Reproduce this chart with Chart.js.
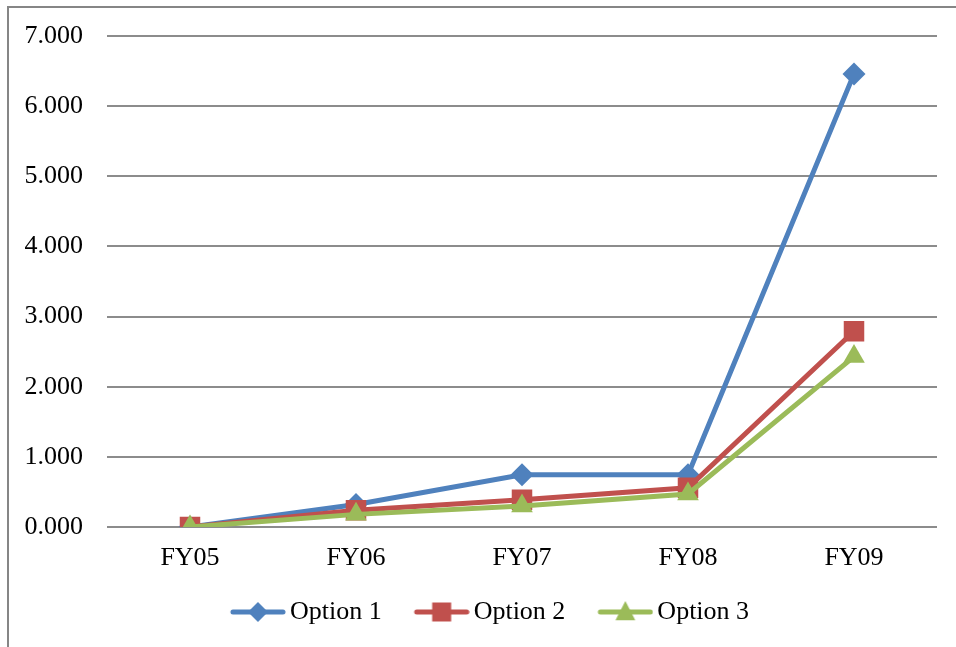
<!DOCTYPE html>
<html>
<head>
<meta charset="UTF-8">
<title>Options FY05-FY09</title>
<script src="https://cdn.jsdelivr.net/npm/chart.js@4.4.1/dist/chart.umd.min.js"></script>
<style>
html,body{margin:0;padding:0;background:#fff;}
#wrap{position:relative;width:956px;height:647px;overflow:hidden;}
#frame{position:absolute;left:7px;top:6px;width:1000px;height:700px;border-left:2px solid #868686;border-top:2px solid #868686;}
#c{position:absolute;left:0;top:0;}
</style>
</head>
<body>
<div id="wrap">
<div id="frame"></div>
<canvas id="c" width="956" height="647"></canvas>
</div>
<script>
// data
const years = ['FY05','FY06','FY07','FY08','FY09'];
const option1 = [0.000, 0.320, 0.745, 0.745, 6.460];
const option2 = [0.000, 0.240, 0.390, 0.560, 2.790];
const option3 = [0.000, 0.180, 0.300, 0.470, 2.430];
const seriesNames = ['Option 1','Option 2','Option 3'];
const colors = ['#4F81BD','#C0504D','#9BBB59'];
const markers = ['rectRot','rect','triangle'];
const markerSize = [11.5, 14.5, 12.5];
const yTicks = [0,1,2,3,4,5,6,7];

const FONT = "'Liberation Serif','Times New Roman',serif";

// legend swatch = line + marker, with empty space on the left
// so the swatch sits right next to the text
const SW_PAD = 41;
function swatch(i){
    const cv = document.createElement('canvas');
    cv.width = SW_PAD + 56; cv.height = 26;
    const g = cv.getContext('2d');
    const cx = SW_PAD + 28, cy = 13;
    g.strokeStyle = colors[i]; g.lineWidth = 5; g.lineCap = 'round';
    g.beginPath(); g.moveTo(SW_PAD + 3, cy); g.lineTo(SW_PAD + 53, cy); g.stroke();
    g.fillStyle = colors[i];
    g.beginPath();
    if(markers[i]==='rectRot'){ const r=10; g.moveTo(cx,cy-r); g.lineTo(cx+r,cy); g.lineTo(cx,cy+r); g.lineTo(cx-r,cy); }
    else if(markers[i]==='rect'){ const s=9.5; g.rect(cx-s,cy-s,2*s,2*s); }
    else { const r=11; g.moveTo(cx,cy-r); g.lineTo(cx+r*0.9,cy+r*0.75); g.lineTo(cx-r*0.9,cy+r*0.75); }
    g.closePath(); g.fill();
    return cv;
}

const allData = [option1, option2, option3];
const datasets = allData.map((d,i)=>({
    label: seriesNames[i],
    data: d,
    borderColor: colors[i],
    backgroundColor: colors[i],
    borderWidth: 5,
    pointStyle: markers[i],
    pointRadius: markerSize[i],
    pointHoverRadius: markerSize[i],
    pointBorderWidth: 0,
    pointBackgroundColor: colors[i],
    tension: 0,
    order: 3-i   // option 3 on top like in excel
}));

const ctx = document.getElementById('c').getContext('2d');
new Chart(ctx,{
    type:'line',
    data:{labels: years, datasets: datasets},
    options:{
        responsive:false,
        animation:false,
        layout:{padding:{top:36,right:19,bottom:12,left:10}},
        plugins:{
            tooltip:{enabled:false},
            legend:{
                position:'bottom',
                labels:{
                    usePointStyle:true,
                    pointStyleWidth:79,
                    padding:0,
                    color:'#000',
                    font:{family:FONT,size:26},
                    sort:(a,b)=>a.datasetIndex-b.datasetIndex,
                    generateLabels:(chart)=>chart.data.datasets.map((ds,i)=>({
                        text: ds.label,
                        datasetIndex: i,
                        pointStyle: swatch(i),
                        fillStyle: colors[i],
                        strokeStyle: colors[i],
                        lineWidth: 0,
                        fontColor: '#000',
                        hidden: false
                    }))
                }
            }
        },
        scales:{
            x:{
                offset:true,
                grid:{display:false, drawTicks:false},
                border:{display:false},
                ticks:{color:'#000', font:{family:FONT,size:26}, padding:16, maxRotation:0},
                afterFit:(s)=>{ s.height = 72; }
            },
            y:{
                min:0, max:7,
                afterBuildTicks:(s)=>{ s.ticks = yTicks.map(v=>({value:v})); },
                // invisible tick marks give the gap between labels and plot
                grid:{color:'#8c8c8c', lineWidth:2, drawTicks:true, tickLength:24, tickColor:'rgba(0,0,0,0)'},
                border:{display:false},
                ticks:{color:'#000', font:{family:FONT,size:26}, padding:0, callback:(v)=>Number(v).toFixed(3)},
                afterFit:(s)=>{ s.width = 97; }
            }
        }
    }
});
</script>
</body>
</html>
